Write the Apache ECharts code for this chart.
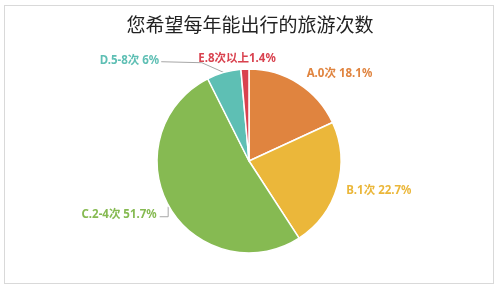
<!DOCTYPE html>
<html><head><meta charset="utf-8">
<script src="https://cdn.jsdelivr.net/npm/echarts@6/dist/echarts.min.js"></script>
<style>
html,body{margin:0;padding:0;background:#fff;}
#frame{position:absolute;left:4px;top:5px;width:488px;height:277px;border:1.5px solid #d9d9d9;box-sizing:content-box;}
#chart{position:absolute;left:0;top:0;width:500px;height:289px;}
</style>
</head><body>
<div id="frame"></div>
<div id="chart"></div>
<script>
const title = '您希望每年能出行的旅游次数';
const categories = ['A.0次', 'B.1次', 'C.2-4次', 'D.5-8次', 'E.8次以上'];
const values = [18.1, 22.7, 51.7, 6, 1.4];
const labelTexts = ['A.0次 18.1%', 'B.1次 22.7%', 'C.2-4次 51.7%', 'D.5-8次 6%', 'E.8次以上1.4%'];
const colors = ['#E0843F', '#EBB73A', '#86BA52', '#5EBFB4', '#D9424F'];
const showLines = [false, false, true, true, false];
const lineLen = [2, 2, 4, 6, 4];
const lineLen2 = [2, 2, 4, 50, 2];
const labelDx = [0, 0, 0, -8, 38];
const labelDy = [-8, 4, 6, -6, -6];

function layoutLabel(p) {
  const i = p.dataIndex;
  const out = {hideOverlap: false, dx: labelDx[i], dy: labelDy[i]};
  const pts = p.labelLinePoints;
  if (showLines[i] && pts && pts.length) {
    const r = p.labelRect;
    const rx = r.x + r.width + labelDx[i] + 2;
    const my = r.y + r.height / 2 + labelDy[i];
    const s = pts[0];
    if (i === 2) {
      out.labelLinePoints = [[s[0] - 1, s[1]], [s[0] - 1, my + 2], [rx + 1, my + 2]];
    } else {
      out.labelLinePoints = [[s[0], s[1]], [s[0] - 22, my + 2], [rx, my + 1]];
    }
  }
  return out;
}

const chart = echarts.init(document.getElementById('chart'), null, {renderer: 'canvas'});
chart.setOption({
  animation: false,
  title: {
    text: title, left: 'center', top: 10,
    textStyle: {fontFamily: 'Noto Sans CJK SC', fontSize: 19, fontWeight: 'normal', color: '#222'}
  },
  series: [{
    type: 'pie',
    center: [249, 161],
    radius: [0, 92],
    startAngle: 90,
    clockwise: true,
    avoidLabelOverlap: false,
    itemStyle: {borderColor: '#fff', borderWidth: 1.5},
    labelLayout: layoutLabel,
    label: {
      show: true,
      fontFamily: 'Noto Sans, Noto Sans CJK SC',
      fontSize: 11.5,
      fontWeight: 'bold',
      formatter: p => labelTexts[p.dataIndex]
    },
    labelLine: {lineStyle: {color: '#a6a6a6', width: 1}},
    data: categories.map((c, i) => ({
      name: c, value: values[i],
      itemStyle: {color: colors[i]},
      label: {color: colors[i]},
      labelLine: {show: showLines[i], length: lineLen[i], length2: lineLen2[i]}
    }))
  }]
});
</script>
</body></html>
